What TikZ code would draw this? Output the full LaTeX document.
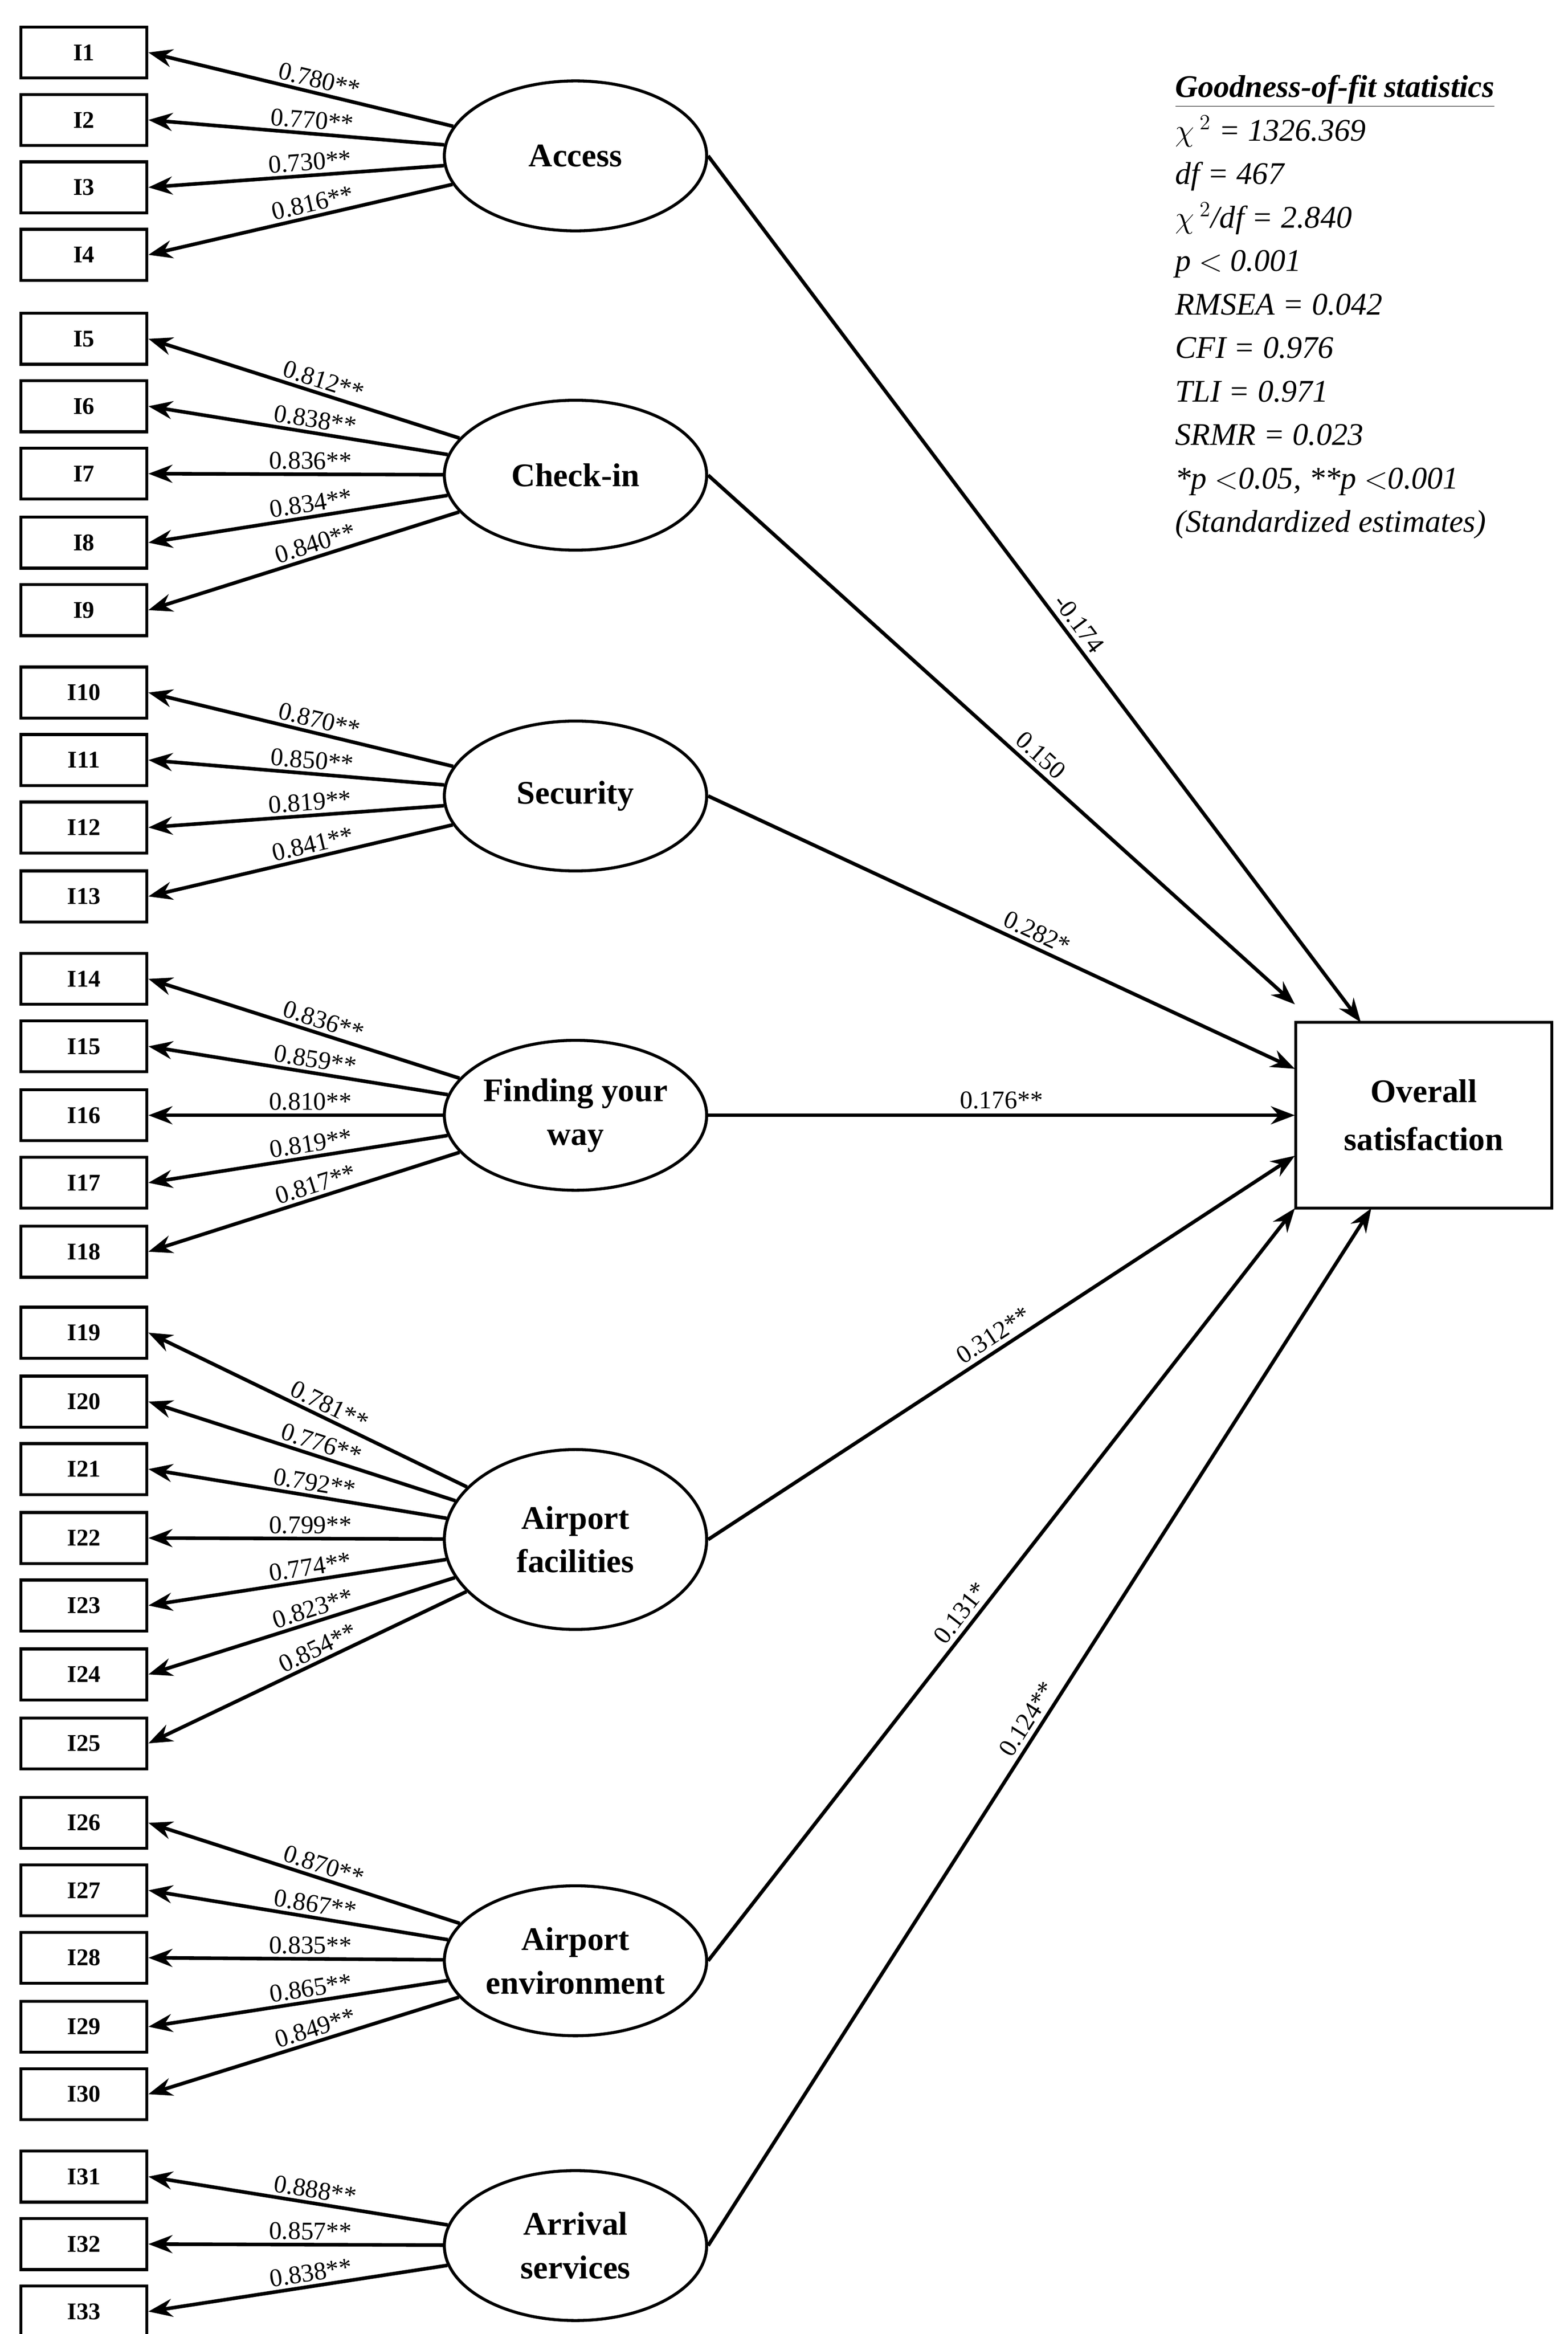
\documentclass[tikz,border=0pt]{standalone}
\usepackage{fontspec}
\setmainfont{Liberation Serif}
\usetikzlibrary{arrows.meta,shapes.geometric}
\begin{document}
\begin{tikzpicture}[x=1pt,y=-1pt,
 item/.style={draw,line width=2pt,minimum width=84pt,minimum height=34pt,inner sep=0pt,font=\fontsize{16}{18}\selectfont\bfseries},
 lat/.style={draw,ellipse,line width=2pt,minimum width=175pt,minimum height=100pt,inner sep=0pt,align=center,font=\fontsize{22}{29}\selectfont\bfseries},
 arr/.style={line width=2.4pt,-{Stealth[length=16pt,width=12pt]}},
 ld/.style={sloped,above,pos=0.45,inner sep=2pt,font=\fontsize{17}{19}\selectfont},
 pl/.style={sloped,above,inner sep=3pt,font=\fontsize{17}{19}\selectfont}]
\useasboundingbox (0,0) rectangle (1046,1557);
\fill[white] (0,0) rectangle (1046,1557);
% items
\foreach \n/\y in {1/35,2/80,3/125,4/170,5/226,6/271,7/316,8/362,9/407,10/462,11/507,12/552,13/598,14/653,15/698,16/744,17/789,18/835,19/889,20/935,21/980,22/1026,23/1071,24/1117,25/1163,26/1216,27/1261,28/1306,29/1352,30/1397,31/1452,32/1497,33/1542}
  \node[item] (I\n) at (56,\y) {I\n};
% latent
\node[lat] (acc) at (384,104) {Access};
\node[lat] (chk) at (384,317) {Check-in};
\node[lat] (sec) at (384,531) {Security};
\node[lat] (fnd) at (384,744) {Finding your\\way};
\node[lat,minimum height=120pt] (fac) at (384,1027) {Airport\\facilities};
\node[lat] (env) at (384,1308) {Airport\\environment};
\node[lat] (arv) at (384,1498) {Arrival\\services};
\node[draw,line width=2pt,minimum width=171pt,minimum height=124pt,align=center,font=\fontsize{22}{32}\selectfont\bfseries] (ov) at (950,744) {Overall\\satisfaction};
% loadings
\foreach \l/\i/\v in {acc/1/0.780**,acc/2/0.770**,acc/3/0.730**,acc/4/0.816**,
 chk/5/0.812**,chk/6/0.838**,chk/7/0.836**,chk/8/0.834**,chk/9/0.840**,
 sec/10/0.870**,sec/11/0.850**,sec/12/0.819**,sec/13/0.841**,
 fnd/14/0.836**,fnd/15/0.859**,fnd/16/0.810**,fnd/17/0.819**,fnd/18/0.817**,
 fac/19/0.781**,fac/20/0.776**,fac/21/0.792**,fac/22/0.799**,fac/23/0.774**,fac/24/0.823**,fac/25/0.854**,
 env/26/0.870**,env/27/0.867**,env/28/0.835**,env/29/0.865**,env/30/0.849**,
 arv/31/0.888**,arv/32/0.857**,arv/33/0.838**}
  \draw[arr] (\l) -- (I\i.east) node[ld] {\v};
% structural paths
\coordinate (t1) at (908,682);
\coordinate (t2) at (864,670);
\coordinate (t3) at (864,713);
\coordinate (t4) at (864,744);
\coordinate (t5) at (864,771);
\coordinate (t6) at (864,806);
\coordinate (t7) at (915,806);
\draw[arr] (acc.east) -- (t1) node[pl,pos=0.55] {-0.174};
\draw[arr] (chk.east) -- (t2) node[pl,pos=0.55] {0.150};
\draw[arr] (sec.east) -- (t3) node[pl,pos=0.55] {0.282*};
\draw[arr] (fnd.east) -- (t4) node[pl,pos=0.5] {0.176**};
\draw[arr] (fac.east) -- (t5) node[pl,pos=0.5] {0.312**};
\draw[arr] (env.east) -- (t6) node[pl,pos=0.45] {0.131*};
\draw[arr] (arv.east) -- (t7) node[pl,pos=0.5] {0.124**};
% stats
\node[anchor=north west,align=left,inner sep=0pt,font=\fontsize{21}{29}\selectfont\itshape] (gof) at (784,50)
{\textbf{\underline{Goodness-of-fit statistics}}\\
$\chi$\,$^{2}$ = 1326.369\\ df = 467\\ $\chi$\,$^{2}$/df = 2.840\\ p $<$ 0.001\\ RMSEA = 0.042\\ CFI = 0.976\\ TLI = 0.971\\ SRMR = 0.023\\ *p $<$0.05, **p $<$0.001\\ (Standardized estimates)};
\end{tikzpicture}
\end{document}
